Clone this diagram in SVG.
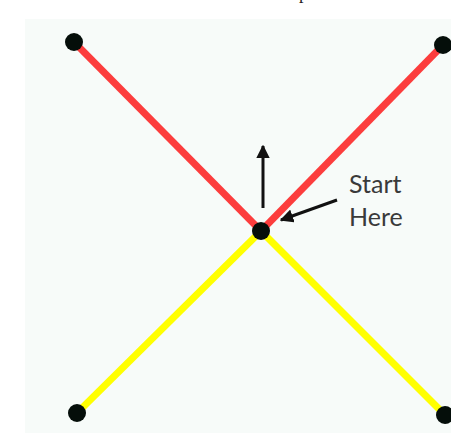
<svg xmlns="http://www.w3.org/2000/svg" width="451" height="433" viewBox="0 0 451 433">
<defs>
<style>
.red{stroke:#fc3d3d;stroke-width:7;fill:none}
.yel{stroke:#ffff00;stroke-width:7;fill:none}
.arr{stroke:#111;stroke-width:3;fill:none}
.dot{fill:#050e0a}
.lbl{font-family:Lato,"Open Sans",sans-serif;font-size:25px;fill:#3a3a3a}
</style>
<marker id="ah" viewBox="0 0 10 10" refX="9" refY="5" markerWidth="4.5" markerHeight="4.5" markerUnits="strokeWidth" orient="auto">
<path d="M0,0 L10,5 L0,10 z" fill="#111"/>
</marker>
</defs>
<rect x="0" y="0" width="451" height="433" fill="#fff"/>
<text x="299" y="-1" font-family="Liberation Serif,serif" font-size="18" fill="#222">p</text>
<rect x="25" y="19" width="426" height="414" fill="#f7fbf9"/>
<g id="connectors">
<line class="red" x1="74" y1="42" x2="261" y2="231"/>
<line class="red" x1="443" y1="45" x2="261" y2="231"/>
<line class="yel" x1="77" y1="413" x2="261" y2="231"/>
<line class="yel" x1="445" y1="415" x2="261" y2="231"/>
<line class="arr" x1="263" y1="208" x2="263" y2="146" marker-end="url(#ah)"/>
<line class="arr" x1="337" y1="200" x2="281" y2="220" marker-end="url(#ah)"/>
</g>
<g id="n-tl"><circle class="dot" cx="74" cy="42" r="9"/></g>
<g id="n-tr"><circle class="dot" cx="443" cy="45" r="9"/></g>
<g id="n-c"><circle class="dot" cx="261" cy="231" r="9"/></g>
<g id="n-bl"><circle class="dot" cx="77" cy="413" r="9"/></g>
<g id="n-br"><circle class="dot" cx="445" cy="415" r="9"/></g>
<g id="label"><text class="lbl" x="349" y="193">Start</text><text class="lbl" x="349" y="226">Here</text></g>
</svg>
